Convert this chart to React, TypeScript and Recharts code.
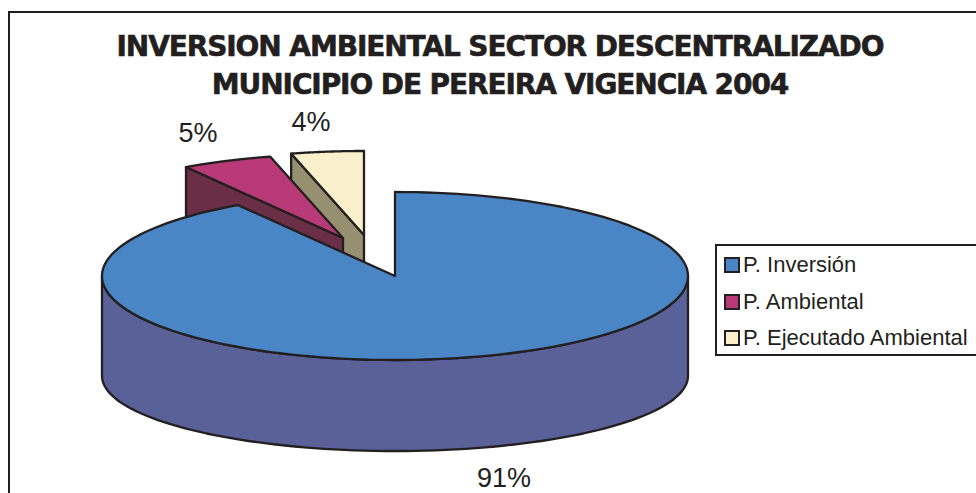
import React from "react";
import { PieChart, Pie, Legend } from "recharts";

const categories = ["P. Inversión", "P. Ambiental", "P. Ejecutado Ambiental"];
const shares = [91, 5, 4];
const titleLines = ["INVERSION AMBIENTAL SECTOR DESCENTRALIZADO", "MUNICIPIO DE PEREIRA VIGENCIA 2004"];

const INK = "#231f20";
const topColors = ["#4a86c5", "#b73a76", "#faf1cc"];
const wallColors = ["#5a6199", "#6a2f47", "#969070"];
const explode: [number, number][] = [[0, 0], [-52, -38], [-31, -41]];
const labelAt: [number, number][] = [[504, 487], [198, 142], [311, 131]];

const RY_RATIO = 84 / 293;
const DEPTH_EDGE = 100;
const RY_BOTTOM = 75;

// Drawn back to front, counter-clockwise from the top of the pie.
const pieData = categories
  .map((name, i) => ({ name, value: shares[i], idx: i }))
  .reverse();

function SliceShape(props: any) {
  const { cx, cy, outerRadius: rx, startAngle, endAngle, payload } = props;
  const idx = payload.idx ?? props.idx;
  const ry = rx * RY_RATIO;
  const [dx, dy] = explode[idx];
  const ox = cx + dx;
  const oy = cy + dy;
  const rad = (a: number) => (a * Math.PI) / 180;
  const tx = (a: number) => ox + rx * Math.cos(rad(a));
  const ty = (a: number) => oy - ry * Math.sin(rad(a));
  const by = (a: number) => oy + DEPTH_EDGE - RY_BOTTOM * Math.sin(rad(a));

  const pts: string[] = [];
  const steps = 160;
  for (let k = 0; k <= steps; k++) {
    const a = startAngle + ((endAngle - startAngle) * k) / steps;
    pts.push(`${tx(a).toFixed(1)},${ty(a).toFixed(1)}`);
  }
  const top = `M${ox},${oy} L${pts.join(" L")} Z`;

  let wall = "";
  if (startAngle < 180 && endAngle > 360) {
    const up: string[] = [];
    const down: string[] = [];
    for (let a = 180; a <= 360; a += 2) {
      up.push(`${tx(a).toFixed(1)},${ty(a).toFixed(1)}`);
      down.unshift(`${tx(a).toFixed(1)},${by(a).toFixed(1)}`);
    }
    wall = `M${up.join(" L")} L${down.join(" L")} Z`;
  }

  const isExploded = dx !== 0 || dy !== 0;
  const face = isExploded
    ? `M${tx(endAngle)},${ty(endAngle)} L${ox},${oy} L${ox},${oy + 92} L${tx(endAngle)},${ty(endAngle) + 92} Z`
    : "";

  const common = { stroke: INK, strokeWidth: 2.3, strokeLinejoin: "round" as const };
  return (
    <g>
      {face && <path d={face} fill={wallColors[idx]} {...common} />}
      {wall && <path d={wall} fill={wallColors[idx]} {...common} />}
      <path d={top} fill={topColors[idx]} {...common} />
    </g>
  );
}

function renderLabel(props: any) {
  const i = props.payload?.idx ?? props.idx;
  const [x, y] = labelAt[i];
  return (
    <text x={x} y={y} textAnchor="middle" fontFamily="Liberation Sans" fontSize={27} fill={INK}>
      {`${shares[i]}%`}
    </text>
  );
}

function LegendBox() {
  return (
    <div
      style={{
        boxSizing: "border-box",
        width: 270,
        height: 112,
        border: `2px solid ${INK}`,
        background: "#fff",
        fontFamily: "Liberation Sans",
        fontSize: 22,
        color: INK,
        paddingTop: 1,
      }}
    >
      {categories.map((c, i) => (
        <div key={c} style={{ display: "flex", alignItems: "center", height: 36.5, paddingLeft: 7, whiteSpace: "nowrap" }}>
          <span
            style={{
              display: "inline-block",
              boxSizing: "border-box",
              width: 16,
              height: 16,
              marginRight: 3,
              background: topColors[i],
              border: `2px solid ${INK}`,
            }}
          />
          {c}
        </div>
      ))}
    </div>
  );
}

export default function App() {
  return (
    <div style={{ position: "absolute", left: 0, top: 0, width: 976, height: 493, overflow: "hidden", background: "#fff" }}>
      <div
        style={{
          position: "absolute",
          left: 8,
          top: 11,
          width: 1000,
          height: 600,
          border: `2px solid ${INK}`,
          boxSizing: "border-box",
        }}
      />
      <div
        style={{
          position: "absolute",
          left: 0,
          top: 28,
          width: 1000,
          textAlign: "center",
          fontFamily: "DejaVu Sans",
          fontWeight: 700,
          fontSize: 28,
          lineHeight: "37.5px",
          letterSpacing: -1.1,
          color: INK,
          whiteSpace: "nowrap",
          WebkitTextStroke: "0.6px #231f20",
        }}
      >
        {titleLines.map((t) => (
          <div key={t}>{t}</div>
        ))}
      </div>
      <div style={{ position: "absolute", left: 0, top: 0 }}>
        <PieChart width={976} height={493} margin={{ top: 0, right: 0, bottom: 0, left: 0 }}>
          <Pie
            data={pieData}
            dataKey="value"
            nameKey="name"
            cx={395}
            cy={276}
            outerRadius={293}
            startAngle={90}
            endAngle={450}
            stroke="none"
            isAnimationActive={false}
            shape={SliceShape}
            label={renderLabel}
            labelLine={false}
          />
          <Legend
            content={() => <LegendBox />}
            wrapperStyle={{ position: "absolute", left: 715, top: 244, width: 270, bottom: "auto", right: "auto" }}
          />
        </PieChart>
      </div>
    </div>
  );
}
